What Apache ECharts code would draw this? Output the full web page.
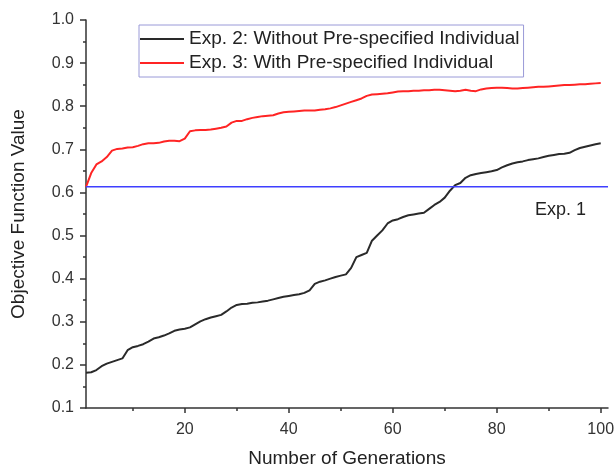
<!DOCTYPE html>
<html>
<head>
<meta charset="utf-8">
<script src="https://cdn.jsdelivr.net/npm/echarts@6/dist/echarts.min.js"></script>
<style>html,body{margin:0;padding:0;background:#fff}#c{width:616px;height:468px}</style>
</head>
<body>
<div id="c"></div>
<script>
const generations = Array.from({length: 100}, (_, i) => i + 1);
const exp2 = [0.182,0.183,0.188,0.197,0.203,0.207,0.211,0.215,0.234,0.241,
0.244,0.248,0.254,0.261,0.264,0.268,0.273,0.279,0.282,0.284,
0.287,0.294,0.301,0.306,0.310,0.313,0.316,0.324,0.333,0.339,
0.341,0.342,0.344,0.345,0.347,0.349,0.352,0.355,0.358,0.360,
0.362,0.364,0.367,0.373,0.388,0.393,0.396,0.400,0.404,0.407,
0.410,0.425,0.450,0.455,0.460,0.488,0.500,0.512,0.528,0.535,
0.538,0.543,0.547,0.549,0.551,0.553,0.562,0.571,0.578,0.588,
0.604,0.617,0.622,0.634,0.640,0.643,0.645,0.647,0.649,0.652,
0.658,0.663,0.667,0.670,0.672,0.675,0.677,0.679,0.682,0.685,
0.687,0.689,0.690,0.692,0.698,0.703,0.706,0.709,0.712,0.714];
const exp3 = [0.613,0.645,0.665,0.672,0.682,0.697,0.701,0.702,0.704,0.705,
0.708,0.712,0.714,0.714,0.715,0.718,0.720,0.720,0.719,0.725,
0.742,0.744,0.745,0.745,0.746,0.748,0.750,0.753,0.762,0.766,
0.766,0.770,0.773,0.775,0.777,0.778,0.779,0.783,0.786,0.787,
0.788,0.789,0.790,0.790,0.790,0.792,0.793,0.795,0.798,0.802,
0.806,0.810,0.814,0.818,0.824,0.827,0.828,0.829,0.830,0.832,
0.834,0.835,0.835,0.836,0.836,0.837,0.837,0.838,0.838,0.837,
0.836,0.835,0.836,0.838,0.836,0.835,0.839,0.841,0.842,0.843,
0.843,0.842,0.841,0.841,0.842,0.843,0.844,0.845,0.845,0.846,
0.847,0.848,0.849,0.849,0.850,0.851,0.851,0.852,0.853,0.854];
const exp1X = [1, 101.4];
const exp1Y = [0.613, 0.613];
const xMajorTicks = [20, 40, 60, 80, 100];
const xMinorTicks = [10, 30, 50, 70, 90];
const names = ['Exp. 2: Without Pre-specified Individual', 'Exp. 3: With Pre-specified Individual', 'Exp. 1'];

const FONT = 'Liberation Sans, Arial, sans-serif';
const AX = '#333';
const chart = echarts.init(document.getElementById('c'), null, {renderer: 'canvas'});
chart.setOption({
  animation: false,
  backgroundColor: '#fff',
  grid: {left: 86, right: 8, top: 20, bottom: 60, containLabel: false, outerBoundsMode: 'none'},
  legend: {
    orient: 'vertical', left: 139, top: 25,
    data: [names[0], names[1]],
    icon: 'rect',
    backgroundColor: '#fff', borderColor: '#9a9ad8', borderWidth: 1,
    padding: [3, 4, 3, 1], itemGap: 2, itemWidth: 44, itemHeight: 2,
    textStyle: {fontFamily: FONT, fontSize: 19, color: '#222', lineHeight: 22}
  },
  xAxis: [{
    type: 'value', min: 1, max: 101.4,
    name: 'Number of Generations', nameLocation: 'middle', nameGap: 41,
    nameTextStyle: {fontFamily: FONT, fontSize: 19, color: '#222'},
    axisLine: {lineStyle: {color: AX, width: 1.5}},
    axisTick: {show: true, length: 5, inside: false, customValues: xMajorTicks, lineStyle: {color: AX, width: 1.5}},
    axisLabel: {customValues: xMajorTicks, fontFamily: FONT, fontSize: 16, color: '#333', margin: 14},
    splitLine: {show: false}
  }, {
    type: 'value', min: 1, max: 101.4, position: 'bottom',
    axisLine: {show: false},
    axisTick: {show: true, length: 3, customValues: xMinorTicks, lineStyle: {color: AX, width: 1.5}},
    axisLabel: {show: false},
    splitLine: {show: false}
  }],
  yAxis: {
    type: 'value', min: 0.1, max: 1.0, interval: 0.1,
    name: 'Objective Function Value', nameLocation: 'middle', nameGap: 58,
    nameTextStyle: {fontFamily: FONT, fontSize: 19, color: '#222'},
    axisLine: {show: true, lineStyle: {color: AX, width: 1.5}},
    axisTick: {show: true, length: 6, lineStyle: {color: AX, width: 1.5}},
    minorTick: {show: true, splitNumber: 2, length: 3, lineStyle: {color: AX, width: 1.5}},
    axisLabel: {fontFamily: FONT, fontSize: 16, color: '#333', margin: 12, formatter: v => v.toFixed(1)},
    splitLine: {show: false}
  },
  series: [
    {name: names[0], type: 'line', symbol: 'none', smooth: false,
     data: generations.map((g, i) => [g, exp2[i]]),
     lineStyle: {color: '#2a2a2a', width: 2}, itemStyle: {color: '#2a2a2a'}},
    {name: names[1], type: 'line', symbol: 'none',
     data: generations.map((g, i) => [g, exp3[i]]),
     lineStyle: {color: '#ff2424', width: 2}, itemStyle: {color: '#ff2424'}},
    {name: names[2], type: 'line', symbol: 'none',
     data: exp1X.map((x, i) => [x, exp1Y[i]]),
     lineStyle: {color: '#3f3fff', width: 1.5}, itemStyle: {color: '#3f3fff'}}
  ],
  graphic: [{
    type: 'text', left: 535, top: 201,
    style: {text: names[2], font: '18px ' + FONT, fill: '#222'}
  }]
});
</script>
</body>
</html>
